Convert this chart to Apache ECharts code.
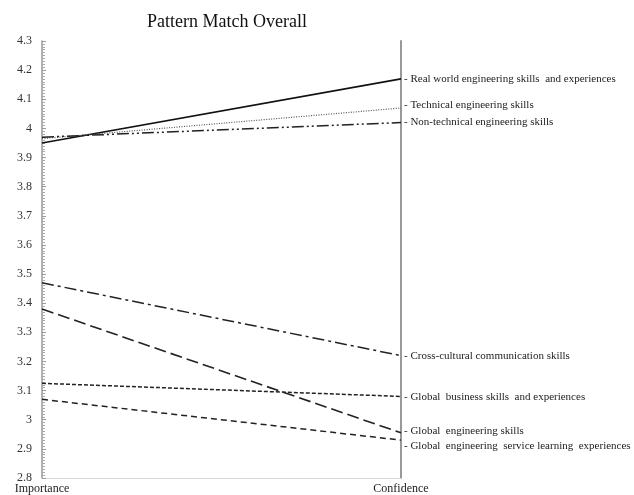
<!DOCTYPE html>
<html>
<head>
<meta charset="utf-8">
<script src="https://cdn.jsdelivr.net/npm/echarts@6/dist/echarts.min.js"></script>
<style>html,body{margin:0;padding:0;background:#fff}#c{width:634px;height:495px}</style>
</head>
<body>
<div id="c"></div>
<script>
const categories = ['Importance', 'Confidence'];
const seriesNames = [
  'Real world engineering skills  and experiences',
  'Technical engineering skills',
  'Non-technical engineering skills',
  'Cross-cultural communication skills',
  'Global  business skills  and experiences',
  'Global  engineering skills',
  'Global  engineering  service learning  experiences'
];
const realWorld = [3.95, 4.17];
const technical = [3.965, 4.07];
const nonTechnical = [3.97, 4.02];
const crossCultural = [3.47, 3.22];
const globalBusiness = [3.125, 3.08];
const globalEngineering = [3.38, 2.955];
const serviceLearning = [3.07, 2.93];
const yTicks = { min: 2.8, max: 4.3, interval: 0.1 };

const valuesList = [realWorld, technical, nonTechnical, crossCultural, globalBusiness, globalEngineering, serviceLearning];
const styles = [
  { line: { type: 'solid', width: 1.6, color: '#111' }, labelOffset: [0, 0] },
  { line: { type: [1, 1.5], width: 1.2, color: '#555' }, labelOffset: [0, -3] },
  { line: { type: [12, 3, 2, 3, 2, 3], width: 1.5, color: '#222' }, labelOffset: [0, 0] },
  { line: { type: [12, 4, 3, 4], width: 1.5, color: '#222' }, labelOffset: [0, 0] },
  { line: { type: [4, 2], width: 1.5, color: '#222' }, labelOffset: [0, 1] },
  { line: { type: [12, 5], width: 1.6, color: '#222' }, labelOffset: [0, -2] },
  { line: { type: [6, 4], width: 1.5, color: '#222' }, labelOffset: [0, 6] }
];
const font = 'Liberation Serif';

const chart = echarts.init(document.getElementById('c'), null, { renderer: 'canvas' });
chart.setOption({
  animation: false,
  title: {
    text: 'Pattern Match Overall',
    left: 222, top: 8, textAlign: 'center',
    textStyle: { fontFamily: font, fontSize: 18, fontWeight: 'normal', color: '#111' }
  },
  grid: { left: 42, right: 233, top: 41, bottom: 17 },
  xAxis: {
    type: 'category', data: categories, boundaryGap: false,
    axisLine: { lineStyle: { color: '#d8d8d8', width: 1 } },
    axisTick: { show: false },
    axisLabel: { fontFamily: font, fontSize: 12, color: '#222', margin: 5 },
    splitLine: { show: false }
  },
  yAxis: [{
    type: 'value', min: yTicks.min, max: yTicks.max, interval: yTicks.interval,
    axisLine: { show: true, lineStyle: { color: '#999', width: 1.5 } },
    axisTick: { show: true, inside: true, length: 4, lineStyle: { color: '#999' } },
    minorTick: { show: true, splitNumber: 10, length: 3, lineStyle: { color: '#aaa' } },
    axisLabel: { fontFamily: font, fontSize: 12, color: '#333', margin: 10 },
    splitLine: { show: false }
  }, {
    type: 'value', position: 'right', min: yTicks.min, max: yTicks.max, interval: yTicks.interval,
    axisLine: { show: true, lineStyle: { color: '#999', width: 2 } },
    axisTick: { show: false }, axisLabel: { show: false }, splitLine: { show: false }
  }],
  series: valuesList.map((vals, i) => ({
    name: seriesNames[i],
    type: 'line',
    data: vals,
    symbol: 'none',
    lineStyle: styles[i].line,
    endLabel: {
      show: true,
      distance: 3,
      offset: styles[i].labelOffset,
      formatter: '- {a}',
      fontFamily: font, fontSize: 11, color: '#222'
    }
  }))
});
</script>
</body>
</html>
